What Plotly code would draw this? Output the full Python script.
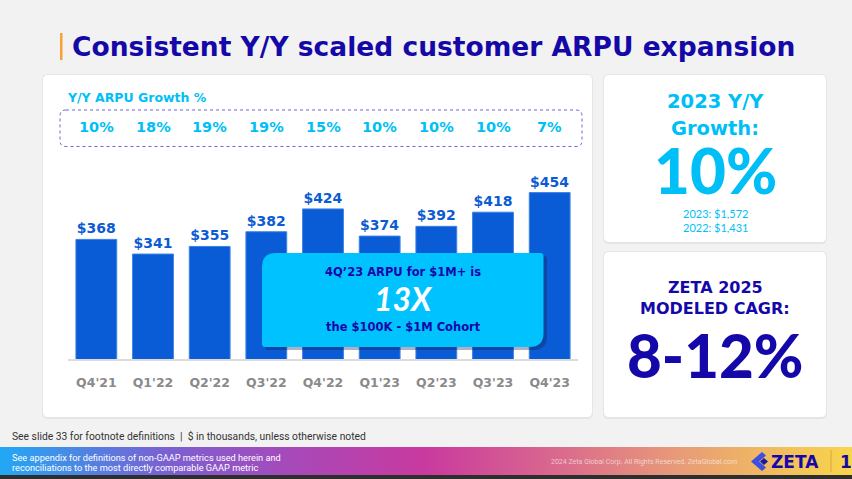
import plotly.graph_objects as go

# ARPU by quarter ($ in thousands)
quarters = ["Q4'21", "Q1'22", "Q2'22", "Q3'22", "Q4'22", "Q1'23", "Q2'23", "Q3'23", "Q4'23"]
arpu = [368, 341, 355, 382, 424, 374, 392, 418, 454]
growth_pct = [10, 18, 19, 19, 15, 10, 10, 10, 7]

# side panel figures
growth_2023 = 10
arpu_2023 = 1572
arpu_2022 = 1431
cagr_low, cagr_high = 8, 12

W, H = 852, 479
NAVY = "#1508a8"
CYAN = "#00bff7"
BAR = "#0a5bd6"
BOLD = "DejaVu Sans"
BIG = "Lato"


def rpath(x0, y0, x1, y1, r):
    """rounded rectangle path (y grows downward), r = (tl, tr, br, bl)"""
    tl, tr, br, bl = r
    return (f"M{x0+tl},{y0} L{x1-tr},{y0} Q{x1},{y0} {x1},{y0+tr} "
            f"L{x1},{y1-br} Q{x1},{y1} {x1-br},{y1} L{x0+bl},{y1} "
            f"Q{x0},{y1} {x0},{y1-bl} L{x0},{y0+tl} Q{x0},{y0} {x0+tl},{y0} Z")


fig = go.Figure()

# footer gradient band (pixel overlay on x/y, drawn first)
fig.add_trace(go.Scatter(
    x=[0, W, W, 0, 0], y=[447, 447, 475, 475, 447],
    mode="lines", line=dict(width=0), fill="toself", hoverinfo="skip",
    fillgradient=dict(type="horizontal", colorscale=[
        [0.0, "#22a8f4"], [0.2, "#7d5fd0"], [0.35, "#a948b8"],
        [0.5, "#c93a9e"], [0.65, "#d9688e"], [0.8, "#e89c78"], [1.0, "#f8d64a"]]),
))

# bar chart on x2/y2 so it sits above the panels
fig.add_trace(go.Bar(
    x=quarters, y=arpu, width=0.72, xaxis="x2", yaxis="y2",
    marker=dict(color=BAR, line=dict(color="#3a80e4", width=1)),
    text=[f"${v}" for v in arpu], textposition="outside",
    textfont=dict(family=BOLD, size=14, color="#0b5bd3", weight="bold"),
    cliponaxis=False, hoverinfo="skip",
))

shapes = []
# white panels with soft edge
for x0, y0, x1, y1 in [(43, 75, 592, 417), (604, 75, 826, 242), (604, 252, 826, 417)]:
    shapes.append(dict(type="path", path=rpath(x0 - 1, y0 - 1, x1 + 1, y1 + 2, (6, 6, 6, 6)),
                       fillcolor="rgba(0,0,0,0.05)", line=dict(width=0), layer="below"))
    shapes.append(dict(type="path", path=rpath(x0, y0, x1, y1, (5, 5, 5, 5)),
                       fillcolor="white", line=dict(width=0), layer="below"))
# title accent
shapes.append(dict(type="rect", x0=60, x1=62.5, y0=33, y1=60, fillcolor="#f7a234",
                   line=dict(width=0), layer="below"))
# dashed growth box
shapes.append(dict(type="path", path=rpath(60, 110, 582, 146.5, (6, 6, 6, 6)),
                   line=dict(color="#7265d4", width=1, dash="dot"), layer="below"))
# callout box with shadow
shapes.append(dict(type="path", path=rpath(265, 256, 547, 350, (14, 3, 14, 3)),
                   fillcolor="rgba(30,30,70,0.35)", line=dict(width=0), layer="above"))
shapes.append(dict(type="path", path=rpath(262, 253, 543.5, 347, (14, 3, 14, 3)),
                   fillcolor="#00c2ff", line=dict(width=0), layer="above"))
# bottom strip
shapes.append(dict(type="rect", x0=0, x1=W, y0=475, y1=H, fillcolor="#2e2e2e",
                   line=dict(width=0), layer="below"))
# logo mark and separator
shapes.append(dict(type="path", path="M762,452 L751,461.5 L762,471 L766,467.5 L759,461.5 L766,455.5 Z",
                   fillcolor="#3d4fe0", line=dict(width=0)))
shapes.append(dict(type="path", path="M764,458 L768,461.5 L764,465 L760,461.5 Z",
                   fillcolor="#1a1aa0", line=dict(width=0)))
shapes.append(dict(type="line", x0=831, x1=831, y0=450, y1=472,
                   line=dict(color="#d9a93a", width=1)))
for s in shapes:
    s.update(xref="x", yref="y")


def note(x, y, text, size, color, family=BOLD, weight="bold", xanchor="center", style="normal", xref="x"):
    return dict(x=x, y=y, xref=xref, yref="y", text=text, showarrow=False,
                xanchor=xanchor, yanchor="middle",
                font=dict(family=family, size=size, color=color, weight=weight, style=style))


ann = [
    note(70, 46, "Consistent Y/Y scaled customer ARPU expansion", 26.5, NAVY, xanchor="left"),
    note(65, 97.5, "Y/Y ARPU Growth %", 12.5, CYAN, xanchor="left"),
    note(403, 271.5, "4Q’23 ARPU for $1M+ is", 11.5, NAVY),
    note(403, 298, "13X", 32, "white", family=BIG, style="italic"),
    note(403, 327, "the $100K - $1M Cohort", 11.5, NAVY),
    note(715, 101.5, "2023 Y/Y", 19.5, CYAN),
    note(715, 128.5, "Growth:", 19.5, CYAN),
    note(715, 170, f"{growth_2023}%", 62, CYAN, family=BIG, weight=900),
    note(715, 213.5, f"2023: ${arpu_2023:,}", 11, CYAN, family=BIG, weight="normal"),
    note(715, 227, f"2022: ${arpu_2022:,}", 11, CYAN, family=BIG, weight="normal"),
    note(715, 287, "ZETA 2025", 16, NAVY),
    note(715, 308, "MODELED CAGR:", 16, NAVY),
    note(715, 355, f"{cagr_low}-{cagr_high}%", 60, NAVY, family=BIG, weight=900),
    note(10, 436, "See slide 33 for footnote definitions  |  $ in thousands, unless otherwise noted",
         10.3, "#333333", family="Roboto", weight="normal", xanchor="left"),
    note(10, 457, "See appendix for definitions of non-GAAP metrics used herein and",
         9.2, "white", family="Roboto", weight="normal", xanchor="left"),
    note(10, 467, "reconciliations to the most directly comparable GAAP metric",
         9.2, "white", family="Roboto", weight="normal", xanchor="left"),
    note(549, 462, "2024 Zeta Global Corp. All Rights Reserved. ZetaGlobal.com",
         7, "rgba(255,255,255,0.6)", family="Roboto", weight="normal", xanchor="left"),
    note(769, 462, "ZETA", 17, NAVY, xanchor="left"),
    note(838, 462, "10", 17, NAVY, xanchor="left"),
]
# growth row, aligned to bar categories
for q, g in zip(quarters, growth_pct):
    ann.append(note(q, 127, f"{g}%", 14.5, CYAN, xref="x2"))

fig.update_layout(
    width=W, height=H, margin=dict(l=0, r=0, t=0, b=0),
    paper_bgcolor="#f2f2f2", plot_bgcolor="rgba(0,0,0,0)", showlegend=False,
    bargap=0.28, shapes=shapes, annotations=ann,
    xaxis=dict(domain=[0, 1], range=[0, W], visible=False, fixedrange=True),
    yaxis=dict(domain=[0, 1], range=[H, 0], visible=False, fixedrange=True),
    xaxis2=dict(domain=[68 / W, 578 / W], anchor="y2", showline=True, linecolor="#dcdcdc",
                linewidth=1.5, ticks="outside", ticklen=11, tickcolor="rgba(0,0,0,0)",
                showgrid=False, fixedrange=True,
                tickfont=dict(family=BOLD, size=12.5, color="#8a8a8a", weight="bold")),
    yaxis2=dict(domain=[1 - 359 / H, 1 - 160 / H], anchor="x2", range=[148, 514],
                visible=False, showgrid=False, fixedrange=True),
)

fig.write_html("out.html", config={"displayModeBar": False},
               post_script="document.body.style.margin='0';")
